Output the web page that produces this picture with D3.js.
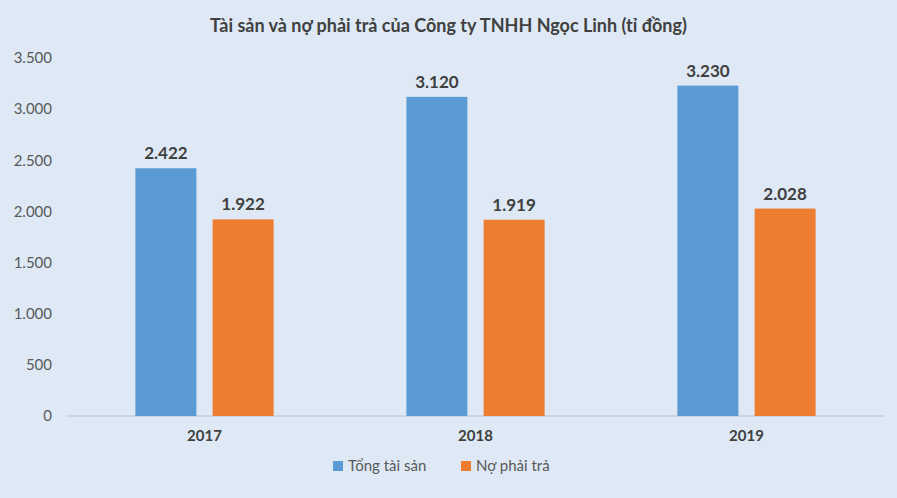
<!DOCTYPE html>
<html>
<head>
<meta charset="utf-8">
<script src="https://cdn.jsdelivr.net/npm/d3@7"></script>
<style>
  body { margin: 0; background: #fff; }
  svg { font-family: Lato, "Open Sans", sans-serif; }
</style>
</head>
<body>
<svg id="chart" width="897" height="498"></svg>
<script>
// Chart data
const years = ['2017', '2018', '2019'];
const seriesNames = ['Tổng tài sản', 'Nợ phải trả'];
const totalAssets = [2422, 3120, 3230];
const liabilities = [1922, 1919, 2028];
const yTicks = [0, 500, 1000, 1500, 2000, 2500, 3000, 3500];
const colors = ['#5b9bd5', '#ed7d31'];

const width = 897;
const height = 498;
const svg = d3.select('#chart');

svg.append('rect')
    .attr('width', width).attr('height', height)
    .attr('fill', '#dee9f5');

const fmt = v => d3.format(',')(v).replace(/,/g, '.');

const x0 = d3.scaleBand().domain(years).range([69, 882])
    .paddingInner(0.49).paddingOuter(0.245);
const x1 = d3.scaleBand().domain(seriesNames).range([0, x0.bandwidth()])
    .paddingInner(0.21);
const y = d3.scaleLinear().domain([0, 3500]).range([416, 58]);

// Title
svg.append('text')
    .attr('x', width / 2).attr('y', 32)
    .attr('text-anchor', 'middle')
    .attr('font-size', 18).attr('font-weight', 'bold')
    .attr('fill', '#404040')
    .text('Tài sản và nợ phải trả của Công ty TNHH Ngọc Linh (tỉ đồng)');

// Y axis labels
const yAxis = svg.append('g')
    .attr('transform', 'translate(55,0)')
    .call(d3.axisLeft(y).tickValues(yTicks).tickFormat(fmt).tickSize(0));
yAxis.select('.domain').remove();
yAxis.selectAll('text')
    .attr('font-size', 15).attr('fill', '#595959')
    .attr('font-family', 'Lato, sans-serif');

// Baseline
svg.append('line')
    .attr('x1', 66).attr('x2', 885)
    .attr('y1', y(0)).attr('y2', y(0))
    .attr('stroke', '#bfbfbf');

// X axis labels
const xAxis = svg.append('g')
    .attr('transform', `translate(0,${y(0)})`)
    .call(d3.axisBottom(x0).tickSize(0).tickPadding(14));
xAxis.select('.domain').remove();
xAxis.selectAll('text')
    .attr('font-size', 15).attr('font-weight', 'bold').attr('fill', '#404040')
    .attr('font-family', 'Lato, sans-serif');

// Bars
const rows = years.map((yr, i) => ({ year: yr, values: [totalAssets[i], liabilities[i]] }));
const groups = svg.selectAll('g.group')
    .data(rows).enter().append('g')
    .attr('class', 'group')
    .attr('transform', d => `translate(${x0(d.year)},0)`);

groups.selectAll('rect')
    .data(d => d.values.map((v, i) => ({ key: seriesNames[i], value: v, i })))
    .enter().append('rect')
    .attr('x', d => x1(d.key))
    .attr('width', x1.bandwidth())
    .attr('y', d => y(d.value))
    .attr('height', d => y(0) - y(d.value))
    .attr('fill', d => colors[d.i]);

groups.selectAll('text.val')
    .data(d => d.values.map((v, i) => ({ key: seriesNames[i], value: v })))
    .enter().append('text')
    .attr('class', 'val')
    .attr('x', d => x1(d.key) + x1.bandwidth() / 2)
    .attr('y', d => y(d.value) - 9)
    .attr('text-anchor', 'middle')
    .attr('font-size', 17).attr('font-weight', 'bold').attr('fill', '#404040')
    .text(d => fmt(d.value));

// Legend
const legend = svg.append('g').attr('transform', 'translate(333,466)');
const items = [{ name: seriesNames[0], x: 0 }, { name: seriesNames[1], x: 128 }];
items.forEach((it, i) => {
    legend.append('rect')
        .attr('x', it.x).attr('y', -5).attr('width', 10).attr('height', 10)
        .attr('fill', colors[i]);
    legend.append('text')
        .attr('x', it.x + 15).attr('y', 5)
        .attr('font-size', 15).attr('fill', '#595959')
        .text(it.name);
});
</script>
</body>
</html>
